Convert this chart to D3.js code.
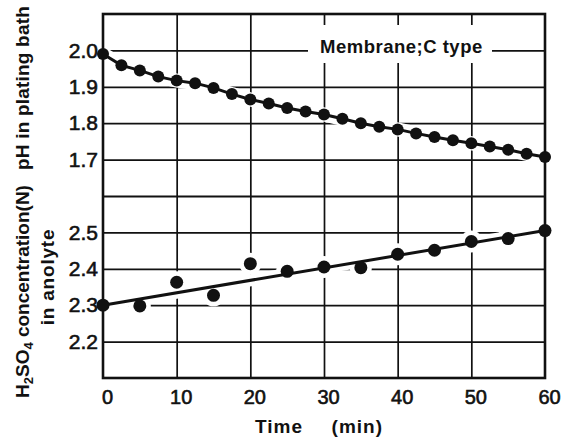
<!DOCTYPE html>
<html>
<head>
<meta charset="utf-8">
<script src="https://cdn.jsdelivr.net/npm/d3@7"></script>
<style>
  body { margin: 0; background: #fff; }
  text { font-family: "Liberation Sans", Arial, sans-serif; fill: #111; }
  .axis-label { font-size: 19px; font-weight: bold; }
  .note { font-size: 18.5px; font-weight: bold; letter-spacing: 0.5px; }
</style>
</head>
<body>
<div id="chart"></div>
<script>
// 0: DATA
const phTimes = [0, 2.5, 5, 7.5, 10, 12.5, 15, 17.5, 20, 22.5, 25, 27.5, 30,
                 32.5, 35, 37.5, 40, 42.5, 45, 47.5, 50, 52.5, 55, 57.5, 60];
const phValues = [1.99, 1.959, 1.945, 1.928, 1.917, 1.910, 1.897, 1.880, 1.865, 1.854, 1.842, 1.832, 1.824,
                  1.812, 1.800, 1.790, 1.783, 1.772, 1.762, 1.753, 1.745, 1.736, 1.727, 1.716, 1.707];

const acidTimes = [0, 5, 10, 15, 20, 25, 30, 35, 40, 45, 50, 55, 60];
const acidValues = [2.30, 2.298, 2.363, 2.327, 2.414, 2.393, 2.405, 2.403, 2.44, 2.451, 2.475, 2.483, 2.505];

// straight fitted line through the acid points
const acidFitTimes = [0, 60];
const acidFitValues = [2.30, 2.505];

const xTicks = [0, 10, 20, 30, 40, 50, 60];
const phTicks = [2.0, 1.9, 1.8, 1.7];
const acidTicks = [2.5, 2.4, 2.3, 2.2];

// 1: CREATE BLANK SVG
const width = 565, height = 438;
const plot = { left: 103, right: 545, top: 14, mid: 196, bottom: 378 };

const svg = d3.select("#chart")
  .append("svg")
  .attr("width", width)
  .attr("height", height);

// 2: SCALES
const x = d3.scaleLinear().domain([0, 60]).range([plot.left, plot.right]);
const yPh = d3.scaleLinear().domain([1.6, 2.1]).range([plot.mid, plot.top]);     // upper panel
const yAcid = d3.scaleLinear().domain([2.1, 2.6]).range([plot.bottom, plot.mid]); // lower panel

// 3: GRID (axes with long ticks, no labels)
const gridStyle = g => {
  g.select(".domain").remove();
  g.selectAll("line").attr("stroke", "#111").attr("stroke-width", 1.7);
};

svg.append("g")
  .attr("transform", `translate(0,${plot.bottom})`)
  .call(d3.axisBottom(x).tickValues(xTicks.slice(1, -1)).tickSize(-(plot.bottom - plot.top)).tickFormat(""))
  .call(gridStyle);

const phGrid = svg.append("g")
  .attr("transform", `translate(${plot.left},0)`)
  .call(d3.axisLeft(yPh).tickValues(phTicks.concat([1.6])).tickSize(-(plot.right - plot.left)).tickFormat(""))
  .call(gridStyle);

svg.append("g")
  .attr("transform", `translate(${plot.left},0)`)
  .call(d3.axisLeft(yAcid).tickValues(acidTicks).tickSize(-(plot.right - plot.left)).tickFormat(""))
  .call(gridStyle);

// the divider between the panels is a bit heavier
phGrid.selectAll(".tick").filter(d => d === 1.6)
  .select("line").attr("stroke-width", 2.2);

// 4: WHITE HALOS - the hand drawn grid stops short of the marks
const phLine = d3.line().x((d, i) => x(phTimes[i])).y(d => yPh(d));
const fitLine = d3.line().x((d, i) => x(acidFitTimes[i])).y(d => yAcid(d));

svg.append("path").datum(phValues)
  .attr("d", phLine).attr("fill", "none").attr("stroke", "#fff").attr("stroke-width", 14);
svg.append("path").datum(acidFitValues)
  .attr("d", fitLine).attr("fill", "none").attr("stroke", "#fff").attr("stroke-width", 12);

svg.append("g").selectAll("circle")
  .data(acidValues).enter().append("circle")
  .attr("cx", (d, i) => x(acidTimes[i]))
  .attr("cy", d => yAcid(d))
  .attr("r", 11)
  .attr("fill", "#fff");

// frame
svg.append("rect")
  .attr("x", plot.left).attr("y", plot.top)
  .attr("width", plot.right - plot.left).attr("height", plot.bottom - plot.top)
  .attr("fill", "none").attr("stroke", "#111").attr("stroke-width", 2.6);

// 5: NOTE on the 2.0 gridline
svg.append("rect")
  .attr("x", 308).attr("y", 25).attr("width", 184).attr("height", 38)
  .attr("fill", "#fff");
svg.append("text")
  .attr("class", "note")
  .attr("x", 320)
  .attr("y", yPh(2.0) + 3)
  .text("Membrane;C type");

// 6: LINES AND POINTS
svg.append("path").datum(phValues)
  .attr("d", phLine).attr("fill", "none").attr("stroke", "#111").attr("stroke-width", 3);
svg.append("path").datum(acidFitValues)
  .attr("d", fitLine).attr("fill", "none").attr("stroke", "#111").attr("stroke-width", 3);

svg.append("g").selectAll("circle")
  .data(phValues).enter().append("circle")
  .attr("cx", (d, i) => x(phTimes[i]))
  .attr("cy", d => yPh(d))
  .attr("r", 6)
  .attr("fill", "#111");

svg.append("g").selectAll("circle")
  .data(acidValues).enter().append("circle")
  .attr("cx", (d, i) => x(acidTimes[i]))
  .attr("cy", d => yAcid(d))
  .attr("r", 6.5)
  .attr("fill", "#111");

// 7: TICK LABELS (slightly thickened, the print is heavy)
const labelStyle = size => g => {
  g.select(".domain").remove();
  g.attr("font-family", null).attr("font-size", null);
  g.selectAll("text")
    .style("font-size", size + "px")
    .attr("fill", "#111")
    .attr("stroke", "#111")
    .attr("stroke-width", 0.6);
};

svg.append("g")
  .attr("transform", `translate(0,${plot.bottom})`)
  .call(d3.axisBottom(x).tickValues(xTicks).tickSize(0).tickPadding(12))
  .call(labelStyle(20))
  .selectAll("text").attr("dx", 4);

svg.append("g")
  .attr("transform", `translate(${plot.left},0)`)
  .call(d3.axisLeft(yPh).tickValues(phTicks).tickSize(0).tickPadding(5).tickFormat(d3.format(".1f")))
  .call(labelStyle(21));

svg.append("g")
  .attr("transform", `translate(${plot.left},0)`)
  .call(d3.axisLeft(yAcid).tickValues(acidTicks).tickSize(0).tickPadding(5).tickFormat(d3.format(".1f")))
  .call(labelStyle(21));

// 8: AXIS TITLES
svg.append("text")
  .attr("class", "axis-label")
  .attr("x", 255).attr("y", 433)
  .style("letter-spacing", "1px")
  .text("Time");
svg.append("text")
  .attr("class", "axis-label")
  .attr("x", 383).attr("y", 433)
  .attr("text-anchor", "end")
  .style("letter-spacing", "1px")
  .text("(min)");

svg.append("text")
  .attr("class", "axis-label")
  .attr("transform", "translate(29,170) rotate(-90)")
  .style("letter-spacing", "0.2px")
  .text("pH in plating bath");

const acidTitle = svg.append("text")
  .attr("class", "axis-label")
  .attr("transform", "translate(29,398) rotate(-90)");
acidTitle.append("tspan").text("H");
acidTitle.append("tspan").attr("dy", 4).style("font-size", "13px").text("2");
acidTitle.append("tspan").attr("dy", -4).text("SO");
acidTitle.append("tspan").attr("dy", 4).style("font-size", "13px").text("4");
acidTitle.append("tspan").attr("dy", -4).text(" concentration(N)");

svg.append("text")
  .attr("class", "axis-label")
  .attr("transform", "translate(54,277) rotate(-90)")
  .attr("text-anchor", "middle")
  .style("letter-spacing", "0.8px")
  .text("in anolyte");
</script>
</body>
</html>
